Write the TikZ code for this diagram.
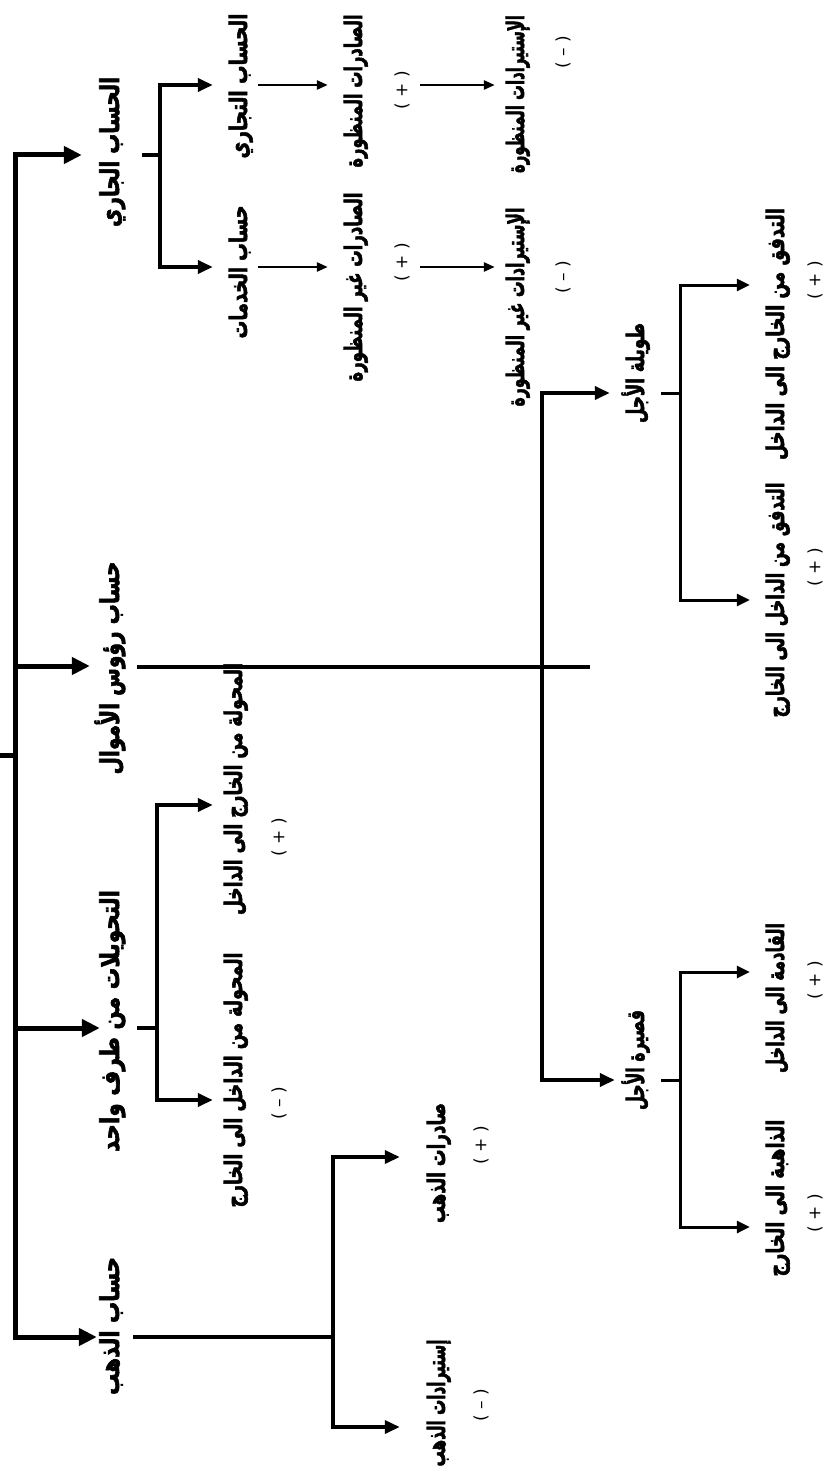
\documentclass[tikz,border=0pt]{standalone}
\usepackage{fontspec}
\usepackage{graphicx}
\newfontfamily\arb[Script=Arabic, BoldFeatures={FakeBold=2.5}]{DejaVu Sans}
\newfontfamily\sgnfont{DejaVu Sans}
\TeXXeTstate=1
\usetikzlibrary{arrows.meta}
\newcommand\AR[2]{\resizebox{#1pt}{\height}{\arb\bfseries #2}}
\tikzset{
  lA/.style={rotate=90, inner sep=0pt, text height=14pt, text depth=6pt, font=\fontsize{26}{30}\selectfont},
  lB/.style={rotate=90, inner sep=0pt, text height=14pt, text depth=6pt, font=\fontsize{24}{28}\selectfont},
  sgn/.style={rotate=90, inner sep=0pt, font=\sgnfont\fontsize{17}{20}\selectfont},
  wA/.style={line width=5pt},
  wB/.style={line width=4.5pt},
  wC/.style={line width=4pt},
  wD/.style={line width=3.5pt},
  wE/.style={line width=3pt},
  wF/.style={line width=2.5pt},
  tipA/.tip={Triangle[length=18pt,width=17pt]},
  tipB/.tip={Triangle[length=15pt,width=13pt]},
  tipC/.tip={Triangle[length=11pt,width=9pt]},
  tipD/.tip={Triangle[length=13pt,width=12pt]},
}
\begin{document}
\begin{tikzpicture}[x=1pt,y=-1pt]
\useasboundingbox (0,0) rectangle (826,1479);
% level 1 nodes
\node[lA] (cur)  at (115,152)  {\AR{150}{\beginR الحساب الجاري\endR}};
\node[lA] (cap)  at (115,668)  {\AR{213}{\beginR حساب رؤوس الأموال\endR}};
\node[lA] (tra)  at (115,1021) {\AR{262}{\beginR التحويلات من طرف واحد\endR}};
\node[lA] (gold) at (115,1326) {\AR{138}{\beginR حساب الذهب\endR}};
% level 2
\node[lB] (trd)  at (243,86)   {\AR{145}{\beginR الحساب التجاري\endR}};
\node[lB] (srv)  at (243,272)  {\AR{133}{\beginR حساب الخدمات\endR}};
\node[lB] (tin)  at (238,789)  {\AR{252}{\beginR المحولة من الخارج الى الداخل\endR}};
\node[lB] (tout) at (238,1080) {\AR{255}{\beginR المحولة من الداخل الى الخارج\endR}};
\node[lB] (gex)  at (441,1163) {\AR{120}{\beginR صادرات الذهب\endR}};
\node[lB] (gim)  at (441,1403) {\AR{127}{\beginR إستيرادات الذهب\endR}};
\node[lB] (lt)   at (640,373)  {\AR{100}{\beginR طويلة الأجل\endR}};
\node[lB] (st)   at (640,1060) {\AR{100}{\beginR قصيرة الأجل\endR}};
% level 3
\node[lB] (ve)   at (358,91)   {\AR{153}{\beginR الصادرات المنظورة\endR}};
\node[lB] (ie)   at (358,287)  {\AR{189}{\beginR الصادرات غير المنظورة\endR}};
\node[lB] (vi)   at (520,94)   {\AR{158}{\beginR الإستيرادات المنظورة\endR}};
\node[lB] (ii)   at (520,307)  {\AR{199}{\beginR الإستيرادات غير المنظورة\endR}};
\node[lB] (fin)  at (780,334)  {\AR{252}{\beginR التدفق من الخارج الى الداخل\endR}};
\node[lB] (fout) at (780,600)  {\AR{235}{\beginR التدفق من الداخل الى الخارج\endR}};
\node[lB] (sin)  at (780,998)  {\AR{150}{\beginR القادمة الى الداخل\endR}};
\node[lB] (sout) at (780,1198) {\AR{157}{\beginR الذاهبة الى الخارج\endR}};
% signs
\node[sgn] (p1) at (402,90)   {( + )};
\node[sgn] (p2) at (402,262)  {( + )};
\node[sgn] (m1) at (563,52)   {( – )};
\node[sgn] (m2) at (563,277)  {( – )};
\node[sgn] (p3) at (279,837)  {( + )};
\node[sgn] (m3) at (279,1103) {( – )};
\node[sgn] (p4) at (481,1145) {( + )};
\node[sgn] (m4) at (481,1405) {( – )};
\node[sgn] (p5) at (815,280)  {( + )};
\node[sgn] (p6) at (815,567)  {( + )};
\node[sgn] (p7) at (815,980)  {( + )};
\node[sgn] (p8) at (815,1213) {( + )};
% spine
\coordinate (root) at (0,755);
\coordinate (s0) at (15,755);
\coordinate (s1) at (15,155);
\coordinate (s2) at (15,666);
\coordinate (s3) at (15,1028);
\coordinate (s4) at (15,1337);
\draw[wA, tipA-tipA, shorten <=23pt, shorten >=8pt] (s1 -| cur.north) -- (s1) -- (s4) -- (s4 -| gold.north);
\draw[wA] (root) -- (s0);
\draw[wA, -tipA, shorten >=15pt] (s2) -- (s2 -| cap.north);
\draw[wA, -tipA, shorten >=5pt] (s3) -- (s3 -| tra.north);
% current account
\coordinate (c0) at (160,155);
\coordinate (ca) at (160,85);
\coordinate (cb) at (160,267);
\draw[wB, shorten <=17pt] (cur.south |- c0) -- (c0);
\draw[wB, tipB-tipB, shorten <=20pt, shorten >=20pt] (ca -| trd.north) -- (ca) -- (cb) -- (cb -| srv.north);
\draw[wF, -tipC, shorten <=5pt, shorten >=20pt] (trd.south |- ca) -- (ca -| ve.north);
\draw[wF, -tipC, shorten <=5pt, shorten >=20pt] (srv.south |- cb) -- (cb -| ie.north);
\draw[wF, -tipC, shorten <=52pt, shorten >=15pt] (ve.south |- ca) -- (ca -| vi.north);
\draw[wF, -tipC, shorten <=52pt, shorten >=15pt] (ie.south |- cb) -- (cb -| ii.north);
% capital account
\coordinate (k0) at (590,667);
\coordinate (ka) at (542,393);
\coordinate (kb) at (542,1080);
\draw[wD, shorten <=12pt] (cap.south |- k0) -- (k0);
\draw[wB, tipB-tipB, shorten <=20pt, shorten >=15pt] (ka -| lt.north) -- (ka) -- (kb) -- (kb -| st.north);
\coordinate (l0) at (680,393);
\coordinate (la) at (680,285);
\coordinate (lb) at (680,600);
\draw[wE, shorten <=11pt] (lt.south |- l0) -- (l0);
\draw[wE, tipD-tipD, shorten <=20pt, shorten >=20pt] (la -| fin.north) -- (la) -- (lb) -- (lb -| fout.north);
\coordinate (n0) at (680,1080);
\coordinate (na) at (680,972);
\coordinate (nb) at (680,1227);
\draw[wE, shorten <=11pt] (st.south |- n0) -- (n0);
\draw[wE, tipD-tipD, shorten <=20pt, shorten >=20pt] (na -| sin.north) -- (na) -- (nb) -- (nb -| sout.north);
% transfers
\coordinate (t0) at (157,1028);
\coordinate (ta) at (157,805);
\coordinate (tb) at (157,1100);
\draw[wC, shorten <=12pt] (tra.south |- t0) -- (t0);
\draw[wC, tipB-tipB, shorten <=15pt, shorten >=15pt] (ta -| tin.north) -- (ta) -- (tb) -- (tb -| tout.north);
% gold
\coordinate (g0) at (333,1337);
\coordinate (ga) at (333,1157);
\coordinate (gb) at (333,1427);
\draw[wD, shorten <=8pt] (gold.south |- g0) -- (g0);
\draw[wD, tipB-tipB, shorten <=31pt, shorten >=31pt] (ga -| gex.north) -- (ga) -- (gb) -- (gb -| gim.north);
\end{tikzpicture}
\end{document}
